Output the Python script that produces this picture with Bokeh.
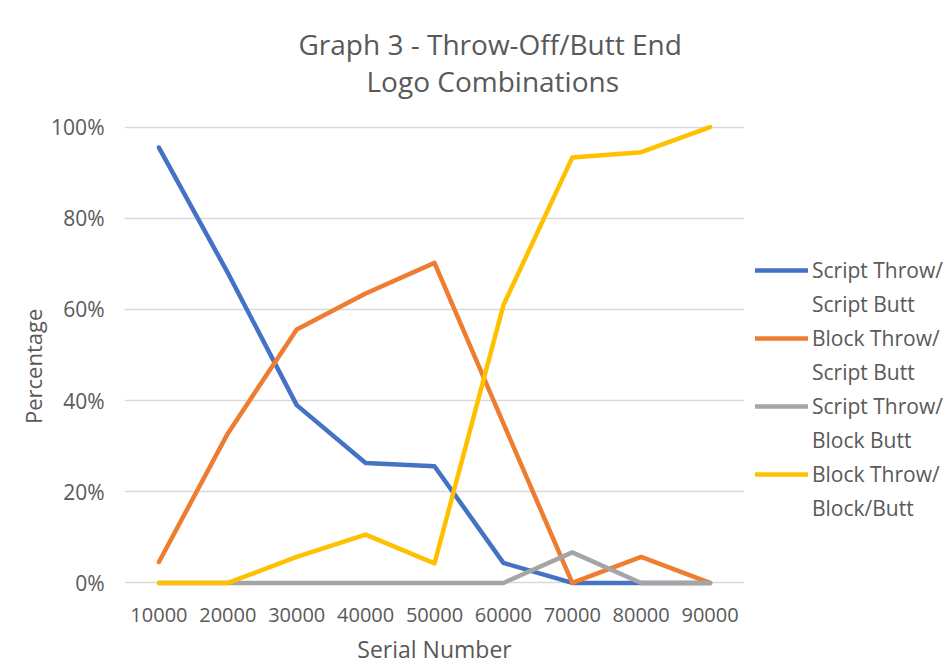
from bokeh.plotting import figure
from bokeh.models import (FactorRange, Range1d, FixedTicker, NumeralTickFormatter,
                          Legend, LegendItem, Title, ColumnDataSource)
from bokeh.embed import file_html
from bokeh.resources import INLINE

serials = ["10000", "20000", "30000", "40000", "50000", "60000", "70000", "80000", "90000"]
script_script = [0.955, 0.68, 0.39, 0.263, 0.256, 0.044, 0.0, 0.0, 0.0]
block_script = [0.046, 0.328, 0.556, 0.635, 0.702, 0.35, 0.0, 0.057, 0.0]
script_block = [0.0, 0.0, 0.0, 0.0, 0.0, 0.0, 0.067, 0.0, 0.0]
block_block = [0.0, 0.0, 0.057, 0.106, 0.043, 0.609, 0.933, 0.945, 1.0]

series_line1 = ["Script Throw/", "Block Throw/", "Script Throw/", "Block Throw/"]
series_line2 = ["Script Butt", "Script Butt", "Block Butt", "Block/Butt"]
series_values = [script_script, block_script, script_block, block_block]
colors = ["#4472C4", "#ED7D31", "#A5A5A5", "#FFC000"]
y_ticks = [0, 0.2, 0.4, 0.6, 0.8, 1.0]

FONT = "Open Sans"
TXT = "#595959"

p = figure(x_range=FactorRange(*serials), y_range=Range1d(-0.01, 1.01),
           frame_width=620, frame_height=465, output_backend="svg",
           toolbar_location=None,
           min_border_left=124, min_border_right=208, min_border_top=122,
           min_border_bottom=83)
p.outline_line_color = None
p.background_fill_color = "white"
p.border_fill_color = "white"

items = []
for l1, l2, vals, c in zip(series_line1, series_line2, series_values, colors):
    src = ColumnDataSource(dict(x=serials, y=vals))
    r = p.line("x", "y", source=src, line_color=c, line_width=4.5,
               line_cap="round", line_join="round")
    items.append(LegendItem(label=l1, renderers=[r]))
    dummy = p.line(x=[], y=[], line_alpha=0)
    items.append(LegendItem(label=l2, renderers=[dummy]))

# axes
p.yaxis.ticker = FixedTicker(ticks=y_ticks)
p.yaxis.formatter = NumeralTickFormatter(format="0%")
for ax in (p.xaxis[0], p.yaxis[0]):
    ax.axis_line_color = None
    ax.major_tick_line_color = None
    ax.minor_tick_line_color = None
    ax.major_tick_out = 0
    ax.major_tick_in = 0
    ax.major_label_text_font = FONT
    ax.major_label_text_font_size = "20px"
    ax.major_label_text_color = TXT
    ax.axis_label_text_font = FONT
    ax.axis_label_text_font_size = "22px"
    ax.axis_label_text_color = TXT
    ax.axis_label_text_font_style = "normal"

p.xaxis.axis_label = "Serial Number"
p.xaxis.axis_label_text_font_size = "23px"
p.yaxis.axis_label = "Percentage\u00a0\u00a0\u00a0\u00a0"
p.yaxis.major_label_text_font_size = "21px"
p.yaxis.major_label_standoff = 20
p.xaxis.major_label_standoff = 20
p.xaxis.axis_label_standoff = 8
p.yaxis.axis_label_standoff = 0

p.xgrid.grid_line_color = None
p.ygrid.grid_line_color = "#d9d9d9"
p.ygrid.grid_line_width = 1.5

legend = Legend(items=items, location=(11, 65), padding=0, margin=0,
                border_line_color=None, background_fill_alpha=0,
                glyph_width=53, glyph_height=20, label_height=20, label_standoff=4,
                spacing=6, label_text_font=FONT, label_text_font_size="21px",
                label_text_color=TXT)
p.add_layout(legend, "right")

t2 = Title(text="Logo Combinations", align="left", text_font=FONT,
           text_font_size="28px", text_color=TXT, text_font_style="normal",
           offset=242, standoff=46)
t1 = Title(text="Graph 3 - Throw-Off/Butt End", align="left", text_font=FONT,
           text_font_size="28px", text_color=TXT, text_font_style="normal",
           offset=174, standoff=-52)
p.add_layout(t2, "above")
p.add_layout(t1, "above")

open("out.html", "w").write(file_html(p, INLINE))
